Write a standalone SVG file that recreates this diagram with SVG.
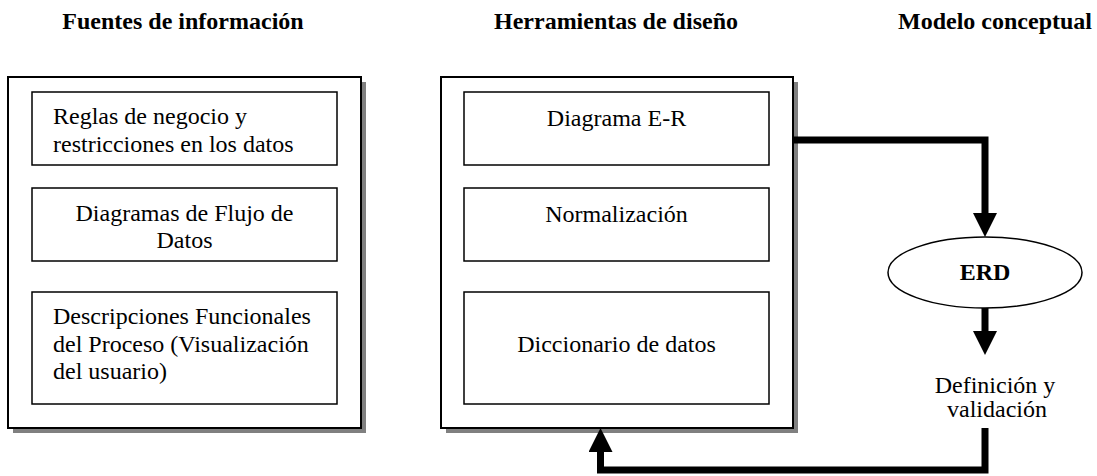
<svg xmlns="http://www.w3.org/2000/svg" width="1097" height="476" viewBox="0 0 1097 476">
<style>
text{font-family:'Liberation Serif',Tinos,'Times New Roman',Times,'DejaVu Serif',serif;font-size:24px;fill:#000}
.h{font-weight:bold}
.c{text-anchor:middle}
.outer{fill:#fff;stroke:#000;stroke-width:2}
.shadow{fill:#808080}
.inner{fill:#fff;stroke:#000;stroke-width:1.5}
.conn{fill:none;stroke:#000;stroke-width:7;stroke-linejoin:miter}
</style>
<defs>
<marker id="ah" viewBox="0 0 24 24" markerWidth="24" markerHeight="24" refX="0" refY="12" orient="auto" markerUnits="userSpaceOnUse">
<path d="M0,0 L24,12 L0,24 z" fill="#000"/>
</marker>
</defs>
<rect width="1097" height="476" fill="#fff"/>
<g font-family="'Liberation Serif', 'DejaVu Serif', serif">
<g id="headers">
<text class="h c" x="183" y="29">Fuentes de información</text>
<text class="h c" x="616" y="29">Herramientas de diseño</text>
<text class="h c" x="995" y="29">Modelo conceptual</text>
</g>
<g id="fuentes">
<rect class="shadow" x="13" y="82" width="353" height="351"/>
<rect class="outer" x="8" y="77" width="353" height="351"/>
<g id="reglas">
<rect class="inner" x="32" y="92" width="305" height="73"/>
<text x="53" y="124">Reglas de negocio y</text>
<text x="53" y="152">restricciones en los datos</text>
</g>
<g id="dfd">
<rect class="inner" x="32" y="188" width="305" height="73"/>
<text class="c" x="184.5" y="221">Diagramas de Flujo de</text>
<text class="c" x="184.5" y="248">Datos</text>
</g>
<g id="descripciones">
<rect class="inner" x="32" y="292" width="305" height="112"/>
<text x="53" y="324">Descripciones Funcionales</text>
<text x="53" y="352">del Proceso (Visualización</text>
<text x="53" y="379">del usuario)</text>
</g>
</g>
<g id="herramientas">
<rect class="shadow" x="446" y="82" width="352" height="351"/>
<rect class="outer" x="441" y="77" width="352" height="351"/>
<g id="diagrama-er">
<rect class="inner" x="464" y="92" width="305" height="73"/>
<text class="c" x="616.5" y="126">Diagrama E-R</text>
</g>
<g id="normalizacion">
<rect class="inner" x="464" y="188" width="305" height="73"/>
<text class="c" x="616.5" y="222">Normalización</text>
</g>
<g id="diccionario">
<rect class="inner" x="464" y="292" width="305" height="112"/>
<text class="c" x="616.5" y="352">Diccionario de datos</text>
</g>
</g>
<g id="erd">
<ellipse cx="985" cy="272.5" rx="97" ry="35.5" fill="#fff" stroke="#000" stroke-width="1.5"/>
<text class="h c" x="985" y="280">ERD</text>
</g>
<g id="definicion">
<text class="c" x="995" y="393">Definición y</text>
<text class="c" x="997" y="417">validación</text>
</g>
</g>
<g id="connectors">
<path class="conn" d="M793,140 H985 V213" marker-end="url(#ah)"/>
<path class="conn" d="M985,308 V331" marker-end="url(#ah)"/>
<path class="conn" d="M985,428 V470 H600.5 V452" marker-end="url(#ah)"/>
</g>
</svg>
